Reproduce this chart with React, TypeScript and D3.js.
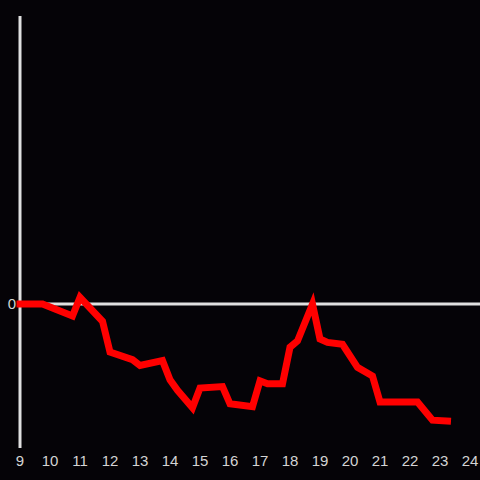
import React from "react";
import * as d3 from "d3";

const hours = [9, 9.75, 10.75, 11, 11.75, 12, 12.75, 13, 13.75, 14, 14.25, 14.75, 15, 15.75, 16, 16.75, 17, 17.25, 17.75, 18, 18.25, 18.75, 19, 19.25, 19.75, 20.25, 20.75, 21, 22.25, 22.75, 23.25];
const values = [0, 0, -0.125, 0.07, -0.18, -0.5, -0.58, -0.64, -0.59, -0.79, -0.9, -1.08, -0.875, -0.86, -1.04, -1.07, -0.8, -0.83, -0.83, -0.45, -0.385, 0, -0.365, -0.4, -0.42, -0.66, -0.75, -1.02, -1.02, -1.21, -1.22];
const xTicks = [9, 10, 11, 12, 13, 14, 15, 16, 17, 18, 19, 20, 21, 22, 23, 24];
const yTicks = [0];

export default function App() {
  const W = 480, H = 480;
  const x = d3.scaleLinear().domain([9, 24]).range([20, 470]);
  const y = d3.scaleLinear().domain([-1.5, 3]).range([448, 16]);
  const line = d3.line<number>().x((_, i) => x(hours[i])).y((d) => y(d));
  React.useEffect(() => {
    document.body.style.margin = "0";
    document.body.style.background = "#050307";
  }, []);
  const axisColor = "#e0e0e0";
  const textColor = "#d4d4d4";
  const font = "Liberation Sans, Arial, sans-serif";
  return (
    <svg width={W} height={H} style={{ display: "block", background: "#050307" }}>
      <rect x={0} y={0} width={W} height={H} fill="#050307" />
      <line x1={x(9)} x2={x(9)} y1={16} y2={448} stroke={axisColor} strokeWidth={3} />
      {yTicks.map((t) => (
        <g key={t}>
          <line x1={x(9)} x2={W} y1={y(t)} y2={y(t)} stroke={axisColor} strokeWidth={3} />
          <text x={16} y={y(t)} dy="0.36em" textAnchor="end" fill={textColor} fontSize={15} fontFamily={font}>{t}</text>
        </g>
      ))}
      <path d={line(values) || ""} fill="none" stroke="#ff0000" strokeWidth={7} strokeLinejoin="miter" strokeLinecap="square" />
      {xTicks.map((t) => (
        <text key={t} x={x(t)} y={466} textAnchor="middle" fill={textColor} fontSize={15} fontFamily={font}>{t}</text>
      ))}
    </svg>
  );
}
